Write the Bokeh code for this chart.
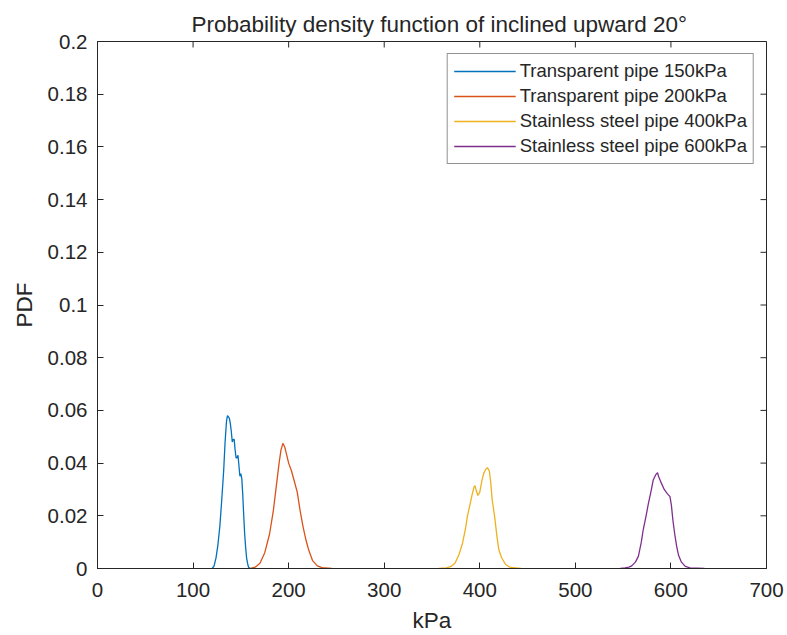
import math
from bokeh.plotting import figure
from bokeh.models import FixedTicker, Range1d, Legend, LegendItem
from bokeh.embed import file_html
from bokeh.resources import INLINE

# ---- data ----
x_150 = [120, 122, 124, 126, 128, 130, 132, 133.5, 135, 136, 137, 138, 139, 140, 141, 142, 143,
         144, 145, 146, 147, 148, 149, 150, 151, 152, 153, 154, 155, 156, 157, 158, 160]
y_150 = [0, 0.001, 0.004, 0.009, 0.016, 0.026, 0.037, 0.048, 0.056, 0.058, 0.0575, 0.057, 0.055,
         0.052, 0.048, 0.049, 0.049, 0.045, 0.042, 0.042, 0.043, 0.039, 0.035, 0.036, 0.034, 0.028,
         0.02, 0.013, 0.008, 0.004, 0.002, 0.0005, 0]

x_200 = [160, 165, 170, 175, 180, 184, 187, 190, 192, 194, 196, 198, 200, 203, 206, 209, 212,
         215, 218, 221, 225, 230, 235, 245]
y_200 = [0, 0.0005, 0.002, 0.006, 0.013, 0.022, 0.031, 0.040, 0.045, 0.0475, 0.046, 0.043,
         0.040, 0.037, 0.033, 0.029, 0.022, 0.016, 0.011, 0.007, 0.003, 0.001, 0.0003, 0]

x_400 = [357, 365, 370, 374, 378, 382, 385, 387, 389, 392, 394, 395, 396, 398, 400, 402, 404,
         406, 408, 410, 411.5, 413, 415.5, 418, 420, 423, 427, 432, 443]
y_400 = [0, 0.0002, 0.0008, 0.002, 0.005, 0.0097, 0.015, 0.0198, 0.023, 0.028, 0.031, 0.0314,
         0.030, 0.0277, 0.029, 0.033, 0.036, 0.0375, 0.0383, 0.037, 0.0325, 0.026, 0.0198, 0.012,
         0.007, 0.004, 0.0015, 0.0004, 0]

x_600 = [547, 552, 556, 559, 563, 566, 569, 571, 574, 576.5, 579, 581.5, 584, 586, 587, 590,
         593, 596, 599, 600.5, 602, 604, 606, 608, 611, 615, 620, 635]
y_600 = [0, 0.0002, 0.0005, 0.001, 0.0025, 0.0047, 0.010, 0.0147, 0.020, 0.0248, 0.029, 0.0336,
         0.0355, 0.0364, 0.035, 0.0324, 0.030, 0.0285, 0.0273, 0.024, 0.0185, 0.013, 0.0084,
         0.005, 0.0024, 0.0008, 0.0002, 0]

series_names = ["Transparent pipe 150kPa", "Transparent pipe 200kPa",
                "Stainless steel pipe 400kPa", "Stainless steel pipe 600kPa"]
series_colors = ["#0072BD", "#D95319", "#EDB120", "#7E2F8E"]

x_ticks = [0, 100, 200, 300, 400, 500, 600, 700]
x_tick_labels = ["0", "100", "200", "300", "400", "500", "600", "700"]
y_ticks = [0, 0.02, 0.04, 0.06, 0.08, 0.1, 0.12, 0.14, 0.16, 0.18, 0.2]
y_tick_labels = ["0", "0.02", "0.04", "0.06", "0.08", "0.1", "0.12", "0.14", "0.16", "0.18", "0.2"]

FONT = "Liberation Sans"
TXT = "#262626"

p = figure(width=787, height=635, output_backend="svg", toolbar_location=None,
           x_range=Range1d(x_ticks[0], x_ticks[-1]), y_range=Range1d(y_ticks[0], y_ticks[-1]),
           min_border_left=97, min_border_right=21, min_border_top=41, min_border_bottom=67,
           title="Probability density function of inclined upward 20°")
p.title.align = "left"
p.title.offset = 94
p.title.text_font = FONT
p.title.text_font_size = "22.5px"
p.title.text_font_style = "normal"
p.title.text_color = TXT

p.xgrid.visible = False
p.ygrid.visible = False
p.background_fill_color = "white"
p.border_fill_color = "white"
p.outline_line_color = TXT
p.outline_line_width = 1

renderers = []
for xs, ys, c in zip([x_150, x_200, x_400, x_600], [y_150, y_200, y_400, y_600], series_colors):
    renderers.append(p.line(xs, ys, line_color=c, line_width=1.3))

# inward tick marks on the top and right edges of the box
p.ray(x=x_ticks, y=[y_ticks[-1]] * len(x_ticks), length=6, length_units="screen",
      angle=-math.pi / 2, line_color=TXT, line_width=1)
p.ray(x=[x_ticks[-1]] * len(y_ticks), y=y_ticks, length=6, length_units="screen",
      angle=math.pi, line_color=TXT, line_width=1)

def style_axis(ax, ticks, labels):
    ax.ticker = FixedTicker(ticks=ticks)
    ax.major_label_overrides = {t: l for t, l in zip(ticks, labels)}
    ax.major_tick_in = 6
    ax.major_tick_out = 0
    ax.minor_tick_line_color = None
    ax.axis_line_color = TXT
    ax.major_tick_line_color = TXT
    ax.major_label_text_font = FONT
    ax.major_label_text_color = TXT
    ax.major_label_text_font_size = "20.5px"
    ax.axis_label_text_font = FONT
    ax.axis_label_text_color = TXT
    ax.axis_label_text_font_style = "normal"
    ax.axis_label_text_font_size = "22.5px"

xa = p.xaxis[0]
style_axis(xa, x_ticks, x_tick_labels)
xa.axis_label = "kPa"
xa.major_label_standoff = 14
xa.axis_label_standoff = 8

ya = p.yaxis[0]
style_axis(ya, y_ticks, y_tick_labels)
ya.axis_label = "PDF"
ya.major_label_standoff = 10
ya.axis_label_standoff = 8

legend = Legend(items=[LegendItem(label=n, renderers=[r]) for n, r in zip(series_names, renderers)],
                location="top_right")
legend.margin = 12
legend.padding = 6
legend.spacing = 3
legend.glyph_width = 62
legend.glyph_height = 20
legend.label_height = 20
legend.label_standoff = 4
legend.label_text_font = FONT
legend.label_text_font_size = "18.5px"
legend.label_text_color = TXT
legend.border_line_color = TXT
legend.border_line_width = 1
legend.background_fill_color = "white"
legend.background_fill_alpha = 1
p.add_layout(legend, "center")

open("out.html", "w").write(file_html(p, INLINE))
